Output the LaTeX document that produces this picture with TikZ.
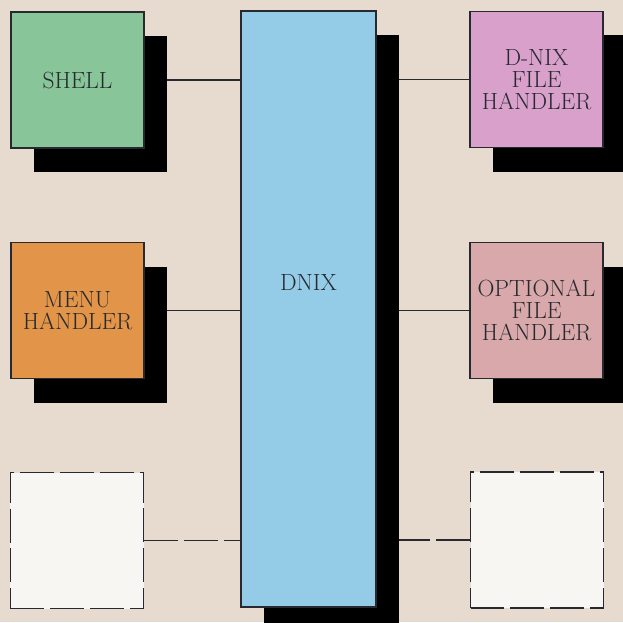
\documentclass[tikz,border=0pt]{standalone}
\usetikzlibrary{arrows.meta,positioning,shadows,backgrounds}
\definecolor{Paper}{RGB}{231,219,208}
\definecolor{Ink}{RGB}{38,42,48}
\definecolor{ShellGreen}{RGB}{136,197,152}
\definecolor{MenuOrange}{RGB}{226,148,72}
\definecolor{CoreBlue}{RGB}{148,204,232}
\definecolor{DnixPink}{RGB}{217,160,204}
\definecolor{OptRose}{RGB}{216,168,170}
\definecolor{Blank}{RGB}{248,246,243}
\tikzset{
  >=Latex,
  box/.style={draw=Ink,line width=1pt,align=center,text=Ink,font=\fontsize{20}{19}\selectfont,inner sep=0pt,text width=3.99cm,minimum height=4.08cm},
  shadowed/.style={drop shadow={shadow xshift=.69cm,shadow yshift=-.72cm,fill=black,opacity=1}},
  module/.style={box,shadowed},
  slot/.style={box,dash pattern=on 29pt off 5pt,fill=Blank},
  link/.style={draw=Ink,line width=.9pt},
  slotlink/.style={link,dash pattern=on 29pt off 5pt}
}
\begin{document}
\begin{tikzpicture}[x=.03cm,y=-.03cm]
  \clip (0,0) rectangle (623,622);
  % kernel in the middle
  \node[module,fill=CoreBlue,text width=4.05cm,minimum height=17.88cm,label={[text=Ink,font=\fontsize{20}{19}\selectfont,yshift=.81cm]center:DNIX}] (dnix) at (308.5,309) {};
  % left column
  \node[module,fill=ShellGreen] (shell) at (77.5,80) {SHELL};
  \node[module,fill=MenuOrange] (menu) at (77.5,310.5) {MENU\\HANDLER};
  \node[slot] (freeL) at (77,540.5) {};
  % right column
  \node[module,fill=DnixPink] (dfile) at (536.5,79.5) {D-NIX\\FILE\\HANDLER};
  \node[module,fill=OptRose] (ofile) at (536.5,310.5) {OPTIONAL\\FILE\\HANDLER};
  \node[slot] (freeR) at (537,540) {};
  % connectors, behind the boxes and their shadows
  \begin{scope}[on background layer]
    \fill[Paper] (0,0) rectangle (623,622);
    \draw[link] (shell.east) -- (shell.east -| dnix.west);
    \draw[link] (menu.east) -- (menu.east -| dnix.west);
    \draw[slotlink] (freeL.east) -- (freeL.east -| dnix.west);
    \draw[link] (dfile.west) -- (dfile.west -| dnix.east);
    \draw[link] (ofile.west) -- (ofile.west -| dnix.east);
    \draw[slotlink] (freeR.west) -- (freeR.west -| dnix.east);
  \end{scope}
\end{tikzpicture}
\end{document}
